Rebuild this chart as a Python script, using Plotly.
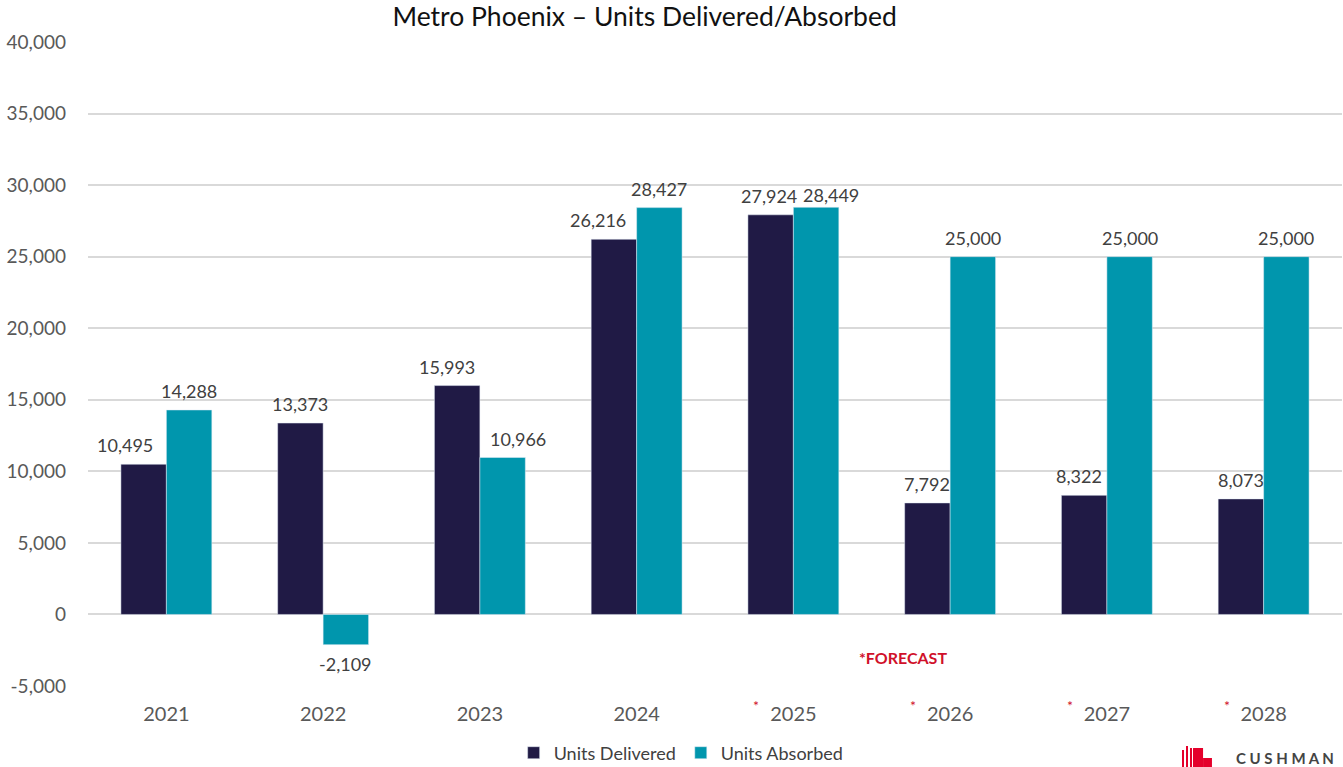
import plotly.graph_objects as go

years = ["2021", "2022", "2023", "2024", "2025", "2026", "2027", "2028"]
delivered = [10495, 13373, 15993, 26216, 27924, 7792, 8322, 8073]
absorbed = [14288, -2109, 10966, 28427, 28449, 25000, 25000, 25000]
forecast_years = ["2025", "2026", "2027", "2028"]
y_ticks = [-5000, 0, 5000, 10000, 15000, 20000, 25000, 30000, 35000, 40000]
y_tick_labels = ["-5,000", "0", "5,000", "10,000", "15,000", "20,000", "25,000", "30,000", "35,000", "40,000"]

# label nudges (pixels), styling only
delivered_label_dx = [-19, 0, -10, -16, -2, 0, -5, 0]
absorbed_label_dx = [0, 0, 15, 0, 15, 0, 0, 0]
absorbed_label_dy = [0, 0, 0, 0, -7, 0, 0, 0]

FONT = "Lato, 'Open Sans', sans-serif"
DARK = "#201a45"
TEAL = "#0096ad"
LABEL_FONT = dict(size=18, color="#404040", family=FONT)
BARGAP = 0.42
HALF = (1 - BARGAP) / 4  # centre offset of each bar in a 2-bar group

fig = go.Figure()
fig.add_trace(go.Bar(x=years, y=delivered, name="Units Delivered", marker_color=DARK))
fig.add_trace(go.Bar(x=years, y=absorbed, name="Units Absorbed", marker_color=TEAL))

annotations = []
for series, offset, dxs, dys in ((delivered, -HALF, delivered_label_dx, [0] * len(years)),
                                 (absorbed, HALF, absorbed_label_dx, absorbed_label_dy)):
    for i, v in enumerate(series):
        annotations.append(dict(
            x=i + offset, xref="x", y=v, yref="y", yanchor="middle",
            yshift=(19 + dys[i]) if v >= 0 else -19, xshift=dxs[i],
            text=f"{v:,}", showarrow=False, font=LABEL_FONT,
        ))

for fy in forecast_years:
    annotations.append(dict(
        x=years.index(fy), xref="x", y=0, yref="paper", yanchor="top", yshift=-9, xshift=-37,
        text="*", showarrow=False, font=dict(size=14, color="#d0102a", family=FONT),
    ))
annotations.append(dict(
    x=4.7, xref="x", y=0.045, yref="paper", yanchor="middle", text="<b>*FORECAST</b>", showarrow=False,
    font=dict(size=16, color="#d0102a", family=FONT),
))
annotations.append(dict(
    x=1.0, xref="paper", y=0, yref="paper", yanchor="middle", xanchor="right",
    yshift=-72, xshift=-6, text="<b>C U S H M A N</b>", showarrow=False,
    font=dict(size=15, color="#444444", family=FONT),
))

# small red logo mark next to the brand text (decoration)
LOGO_RED = "#e4002b"
logo = [
    (0.8724, 0.8740, -0.1258, -0.0994),
    (0.8756, 0.8772, -0.1258, -0.0932),
    (0.8788, 0.8804, -0.1258, -0.0963),
    (0.8812, 0.8892, -0.1258, -0.0963),
    (0.8892, 0.8963, -0.1258, -0.1118),
]
shapes = [dict(type="rect", xref="paper", yref="paper", x0=a, x1=b, y0=c, y1=d,
               fillcolor=LOGO_RED, line_width=0) for a, b, c, d in logo]

fig.update_layout(
    width=1343, height=767,
    paper_bgcolor="white", plot_bgcolor="white",
    margin=dict(l=88, r=1, t=42, b=81),
    title=dict(text="Metro Phoenix – Units Delivered/Absorbed", x=0.48, xanchor="center",
               y=1 - 17 / 767, yanchor="middle", yref="container",
               font=dict(size=26.5, color="#111111", family=FONT)),
    barmode="group", bargap=BARGAP, bargroupgap=0,
    font=dict(family=FONT, color="#595959"),
    legend=dict(orientation="h", x=0.473, xanchor="center", y=14 / 767, yref="container",
                yanchor="middle", font=dict(size=18, color="#404040", family=FONT),
                itemwidth=30, traceorder="normal"),
    annotations=annotations,
    shapes=shapes,
    showlegend=True,
)
fig.update_yaxes(
    range=[-5000, 40000], tickvals=y_ticks, ticktext=y_tick_labels,
    showgrid=True, gridcolor="#d9d9d9", gridwidth=2,
    zeroline=True, zerolinecolor="#d9d9d9", zerolinewidth=2,
    tickfont=dict(size=19, color="#595959", family=FONT), ticklabelstandoff=21,
    showline=False, automargin=False,
)
fig.update_xaxes(
    type="category", range=[-0.5, len(years) - 0.5],
    tickfont=dict(size=20, color="#595959", family=FONT), ticklabelstandoff=14,
    showline=False, showgrid=False, automargin=False,
)

fig.write_html("out.html", config={"displayModeBar": False},
               post_script="document.body.style.margin='0';")
